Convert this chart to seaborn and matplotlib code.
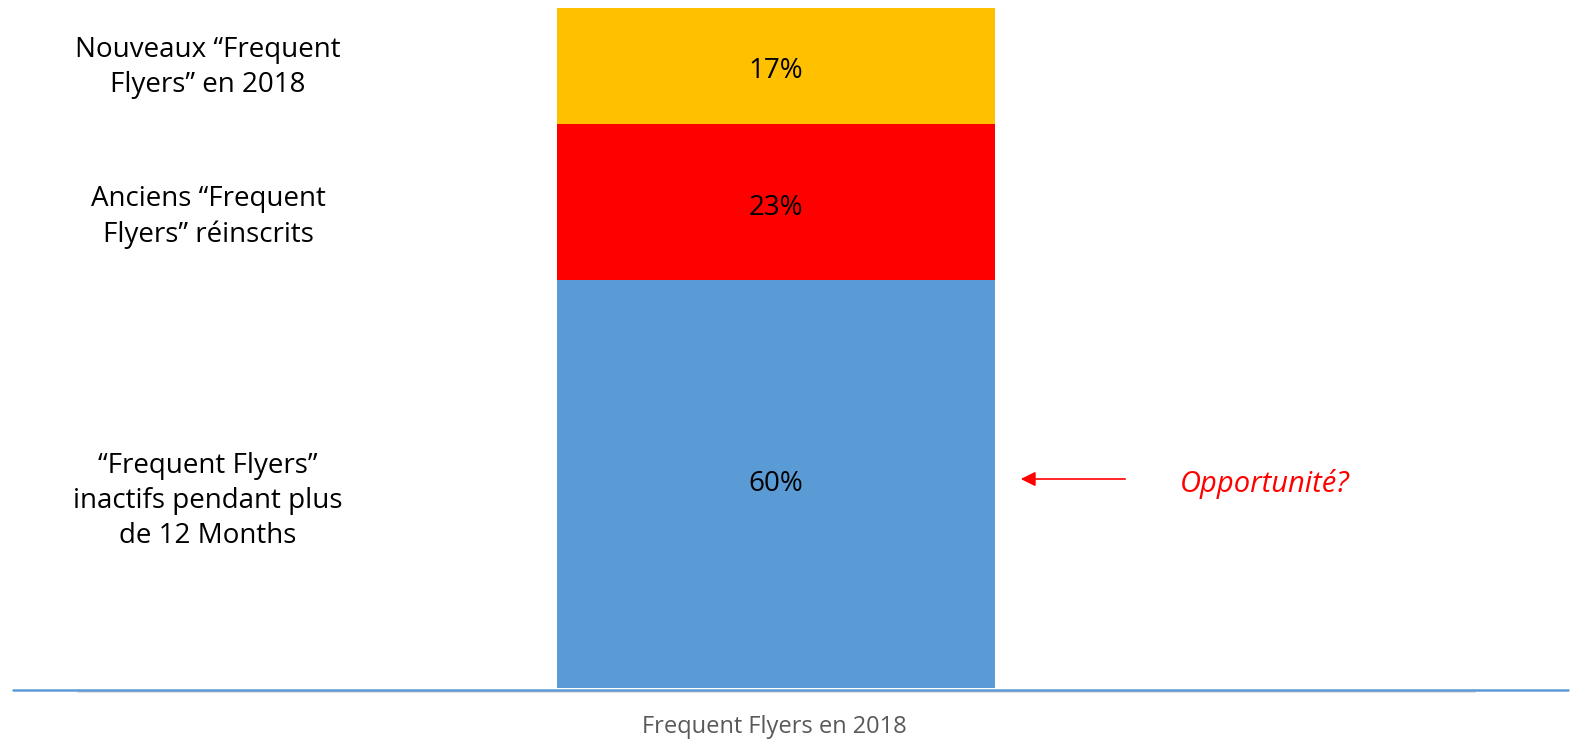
import matplotlib.pyplot as plt
import seaborn as sns
import pandas as pd

# data
categories = ['Frequent Flyers en 2018']
segments = ['Inactifs', 'Anciens', 'Nouveaux']
values = [60, 23, 17]
colors = ['#5B9BD5', '#FF0000', '#FFC000']
segment_labels = [
    '\u201cFrequent Flyers\u201d\ninactifs pendant plus\nde 12 Months',
    'Anciens \u201cFrequent\nFlyers\u201d r\u00e9inscrits',
    'Nouveaux \u201cFrequent\nFlyers\u201d en 2018',
]
callout = 'Opportunit\u00e9?'

sns.set_style('white')
plt.rcParams['font.family'] = ['Open Sans', 'DejaVu Sans']

W, H = 1572, 742
fig = plt.figure(figsize=(W / 100, H / 100), dpi=100)
# axes: baseline at y=688 px, top at y=8 px
ax = fig.add_axes([0, (H - 688) / H, 1, 680 / H])

bottom = 0
for seg, val, col in zip(segments, values, colors):
    df = pd.DataFrame({'cat': categories, 'val': [val]})
    sns.barplot(data=df, x='cat', y='val', bottom=bottom, color=col,
                saturation=1, width=0.8, ax=ax, linewidth=0)
    bottom += val

# place the bar: center at 776 px, width 438 px
unit = 438 / 0.8
ax.set_xlim(-776 / unit, (W - 776) / unit)
ax.set_ylim(0, 100)
ax.axis('off')

px = 100 / 680  # one pixel in data units (y)
label_shift = [-17, -15.5, -2]  # small vertical nudges of left labels, px
pct_shift = [0, -6.5, -5]

# percent labels and left descriptions
bottom = 0
for val, lab, ls, ps in zip(values, segment_labels, label_shift, pct_shift):
    mid = bottom + val / 2
    ax.text(0, mid + ps * px, f'{val}%', ha='center', va='center', fontsize=20, color='black')
    ax.text(208 / W, mid + ls * px, lab, transform=ax.get_yaxis_transform(),
            ha='center', va='center', fontsize=20, color='black', linespacing=1.35)
    bottom += val

# arrow and callout
y_arrow = values[0] / 2 + 5 * px
ax.annotate('', xy=(1018 / W, y_arrow), xytext=(1128 / W, y_arrow),
            xycoords=ax.get_yaxis_transform(), textcoords=ax.get_yaxis_transform(),
            arrowprops=dict(arrowstyle='-|>', color='red', lw=1.2, mutation_scale=22))
ax.text(1265 / W, y_arrow - 5 * px, callout, transform=ax.get_yaxis_transform(),
        ha='center', va='center', fontsize=21, color='red', style='italic')

# baseline lines
fig.add_artist(plt.Line2D([78 / W, 1475 / W], [(H - 691.5) / H] * 2,
                          color='#D9D9D9', lw=1.2))
fig.add_artist(plt.Line2D([13 / W, 1568 / W], [(H - 689.5) / H] * 2,
                          color='#5B9BD5', lw=1.8))

# category label
fig.text(774 / W, (H - 727) / H, categories[0], ha='center', va='center',
         fontsize=17, color='#595959')

fig.savefig('out.png', dpi=100)
